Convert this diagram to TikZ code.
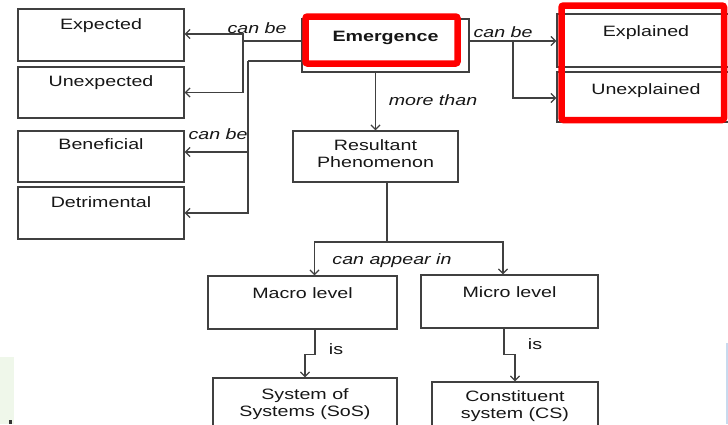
\documentclass[tikz,border=0pt]{standalone}
\usepackage{fontspec}
\setmainfont[FakeStretch=1.31]{Liberation Sans}
\usetikzlibrary{arrows.meta}
\definecolor{linegray}{HTML}{404040}
\definecolor{inkgray}{HTML}{161616}
\definecolor{hired}{HTML}{FF0000}
\definecolor{edgeblue}{HTML}{C8DAEE}
\definecolor{edgegreen}{HTML}{EFF7EA}
\newcommand{\twolines}[2]{\begin{tabular}[t]{@{}c@{}}#1\\#2\end{tabular}}
\begin{document}
\begin{tikzpicture}[x=1pt,y=-1pt,
  font=\fontsize{15}{17}\selectfont,
  every node/.style={text=inkgray},
  cbox/.style={draw=linegray, line width=1.3pt, inner sep=0pt, align=center, anchor=base},
  conn/.style={draw=linegray, line width=1.3pt},
  arr/.style={conn, -{Straight Barb[length=4.5pt,width=9pt,line width=1.3pt]}},
  tag/.style={font=\fontsize{15}{17}\selectfont\itshape, inner sep=0pt},
  hilite/.style={draw=hired, line width=6.5pt, rounded corners=2pt}]
\useasboundingbox (0,0) rectangle (728,424);

% faint strips along the lower edges
\fill[edgegreen] (0,357) rectangle (14,424);
\fill[edgeblue] (726,343) rectangle (728,424);
\fill[black!80] (9,420) rectangle (12,424);

% left column: ways emergence can be
\node[cbox, minimum width=166pt, text height=20pt, text depth=32pt] (exp) at (101,29) {Expected};
\node[cbox, minimum width=166pt, text height=19pt, text depth=32pt] (unexp) at (101,86) {Unexpected};
\node[cbox, minimum width=166pt, text height=18pt, text depth=33pt] (ben) at (101,149) {Beneficial};
\node[cbox, minimum width=166pt, text height=20pt, text depth=32pt] (det) at (101,207) {Detrimental};

% central concept
\node[cbox, minimum width=167pt, text height=22.5pt, text depth=30.5pt, font=\fontsize{15}{17}\selectfont\bfseries] (emg) at (385.5,41.5) {Emergence};

% right column
\node[cbox, minimum width=178pt, text height=22.5pt, text depth=30.5pt] (expl) at (646,36.5) {Explained};
\node[cbox, minimum width=178pt, text height=22pt, text depth=28pt] (unexpl) at (646,94) {Unexplained};

% resultant phenomenon and levels
\node[cbox, minimum width=165pt, text height=19.5pt, text depth=31.5pt] (res) at (375.5,150.5)
  {\twolines{Resultant}{Phenomenon}};
\node[cbox, minimum width=189pt, text height=22pt, text depth=31pt] (macro) at (302.5,298) {Macro level};
\node[cbox, minimum width=177pt, text height=22pt, text depth=31pt] (micro) at (509.5,297) {Micro level};
\node[cbox, minimum width=184pt, text height=21.5pt, text depth=27.5pt] (sos) at (305,399.5)
  {\twolines{System of}{Systems (SoS)}};
\node[cbox, minimum width=166pt, text height=19.5pt, text depth=24.5pt] (cs) at (515,401.5)
  {\twolines{Constituent}{system (CS)}};

% highlight frames
\draw[hilite] (305.5,16.5) rectangle (457.5,63.5);
\draw[hilite] (561.5,5.5) rectangle (724,120);

% connectors to the left column
\coordinate (jl1) at (243,41);
\coordinate (jl2) at (248,61);
\draw[conn] (emg.west |- jl1) -- (jl1);
\draw[arr] (jl1) |- ([yshift=1pt]exp.east);
\draw[arr] (jl1) |- (unexp.east);
\draw[conn] (emg.west |- jl2) -- (jl2);
\draw[arr] (jl2) |- ([yshift=4.5pt]ben.east);
\draw[arr] (jl2) |- (det.east);
\node[tag] (t1) at (257,28) {can be};
\node[tag] (t2) at (218,134) {can be};

% connectors to the right column
\coordinate (jr) at (513,41);
\draw[conn] (emg.east |- jr) -- (jr);
\draw[arr] (jr) -- (expl.west |- jr);
\draw[arr] (jr) |- ([yshift=-1pt]unexpl.west);
\node[tag] (t3) at (503,32) {can be};

% emergence to resultant phenomenon
\draw[arr] (emg.south -| res.north) -- (res.north);
\node[tag] (t4) at (433,100) {more than};

% resultant phenomenon to levels
\coordinate (split) at (387,242);
\draw[conn] (res.south -| split) -- (split);
\draw[arr] (split) -| ([xshift=12pt]macro.north);
\draw[arr] (split) -| ([xshift=-6.5pt]micro.north);
\node[tag] (t5) at (392,261) {can appear in};

% levels to systems
\draw[arr] ([xshift=12.5pt]macro.south) -- ++(0,25) -| (sos.north);
\draw[arr] ([xshift=-5.5pt]micro.south) -- ++(0,26) -| (cs.north);
\node[inner sep=0pt] (t6) at (336,349) {is};
\node[inner sep=0pt] (t7) at (535,344) {is};
\end{tikzpicture}
\end{document}
